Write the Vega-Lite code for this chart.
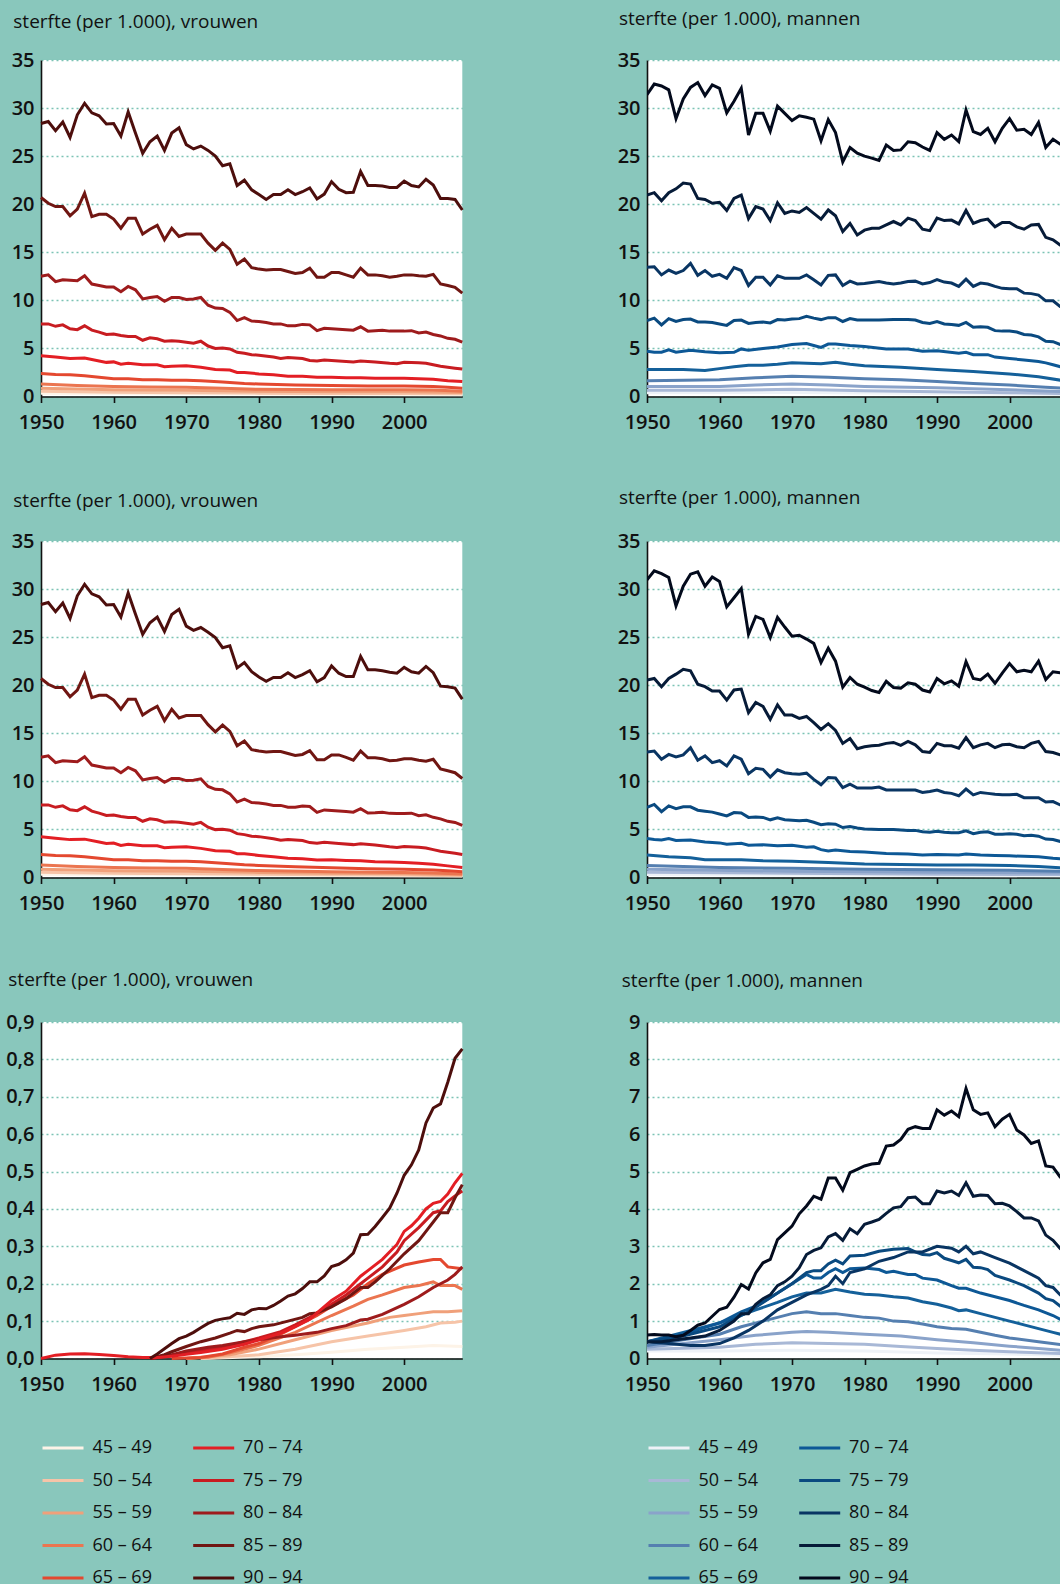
{
"$schema":"https://vega.github.io/schema/vega-lite/v6.json",
"background":"#89c7bc",
"padding":{"left":5,"top":9,"right":0,"bottom":0},
"bounds":"flush",
"columns":2,
"spacing":{"row":144,"column":184},
"resolve":{"scale":{"color":"independent"},"legend":{"color":"independent"}},
"datasets":{
"a9":[{"j":1950,"v":28.4},{"j":1951,"v":28.6},{"j":1952,"v":27.65},{"j":1953,"v":28.55},{"j":1954,"v":26.95},{"j":1955,"v":29.3},{"j":1956,"v":30.5},{"j":1957,"v":29.5},{"j":1958,"v":29.2},{"j":1959,"v":28.35},{"j":1960,"v":28.4},{"j":1961,"v":27.1},{"j":1962,"v":29.6},{"j":1963,"v":27.4},{"j":1964,"v":25.3},{"j":1965,"v":26.5},{"j":1966,"v":27.1},{"j":1967,"v":25.6},{"j":1968,"v":27.4},{"j":1969,"v":27.95},{"j":1970,"v":26.2},{"j":1971,"v":25.75},{"j":1972,"v":26.05},{"j":1973,"v":25.6},{"j":1974,"v":25.0},{"j":1975,"v":24.0},{"j":1976,"v":24.2},{"j":1977,"v":21.95},{"j":1978,"v":22.5},{"j":1979,"v":21.5},{"j":1980,"v":21.0},{"j":1981,"v":20.5},{"j":1982,"v":21.0},{"j":1983,"v":21.0},{"j":1984,"v":21.5},{"j":1985,"v":21.0},{"j":1986,"v":21.3},{"j":1987,"v":21.7},{"j":1988,"v":20.55},{"j":1989,"v":21.05},{"j":1990,"v":22.35},{"j":1991,"v":21.55},{"j":1992,"v":21.2},{"j":1993,"v":21.25},{"j":1994,"v":23.4},{"j":1995,"v":21.95},{"j":1996,"v":21.95},{"j":1997,"v":21.9},{"j":1998,"v":21.75},{"j":1999,"v":21.75},{"j":2000,"v":22.4},{"j":2001,"v":21.95},{"j":2002,"v":21.8},{"j":2003,"v":22.6},{"j":2004,"v":22.0},{"j":2005,"v":20.6},{"j":2006,"v":20.6},{"j":2007,"v":20.5},{"j":2008,"v":19.4}],
"a8":[{"j":1950,"v":20.7},{"j":1951,"v":20.1},{"j":1952,"v":19.75},{"j":1953,"v":19.75},{"j":1954,"v":18.8},{"j":1955,"v":19.5},{"j":1956,"v":21.15},{"j":1957,"v":18.7},{"j":1958,"v":18.95},{"j":1959,"v":18.95},{"j":1960,"v":18.45},{"j":1961,"v":17.5},{"j":1962,"v":18.55},{"j":1963,"v":18.55},{"j":1964,"v":16.9},{"j":1965,"v":17.4},{"j":1966,"v":17.8},{"j":1967,"v":16.3},{"j":1968,"v":17.5},{"j":1969,"v":16.65},{"j":1970,"v":16.9},{"j":1971,"v":16.9},{"j":1972,"v":16.9},{"j":1973,"v":15.95},{"j":1974,"v":15.2},{"j":1975,"v":15.95},{"j":1976,"v":15.3},{"j":1977,"v":13.75},{"j":1978,"v":14.3},{"j":1979,"v":13.4},{"j":1980,"v":13.25},{"j":1981,"v":13.15},{"j":1982,"v":13.2},{"j":1983,"v":13.2},{"j":1984,"v":13.0},{"j":1985,"v":12.8},{"j":1986,"v":12.9},{"j":1987,"v":13.35},{"j":1988,"v":12.4},{"j":1989,"v":12.4},{"j":1990,"v":12.9},{"j":1991,"v":12.9},{"j":1992,"v":12.65},{"j":1993,"v":12.4},{"j":1994,"v":13.35},{"j":1995,"v":12.65},{"j":1996,"v":12.65},{"j":1997,"v":12.55},{"j":1998,"v":12.4},{"j":1999,"v":12.5},{"j":2000,"v":12.65},{"j":2001,"v":12.65},{"j":2002,"v":12.55},{"j":2003,"v":12.5},{"j":2004,"v":12.7},{"j":2005,"v":11.7},{"j":2006,"v":11.55},{"j":2007,"v":11.35},{"j":2008,"v":10.75}],
"a7":[{"j":1950,"v":12.5},{"j":1951,"v":12.65},{"j":1952,"v":11.95},{"j":1953,"v":12.15},{"j":1954,"v":12.1},{"j":1955,"v":12.05},{"j":1956,"v":12.55},{"j":1957,"v":11.7},{"j":1958,"v":11.55},{"j":1959,"v":11.4},{"j":1960,"v":11.4},{"j":1961,"v":10.9},{"j":1962,"v":11.45},{"j":1963,"v":11.1},{"j":1964,"v":10.15},{"j":1965,"v":10.3},{"j":1966,"v":10.4},{"j":1967,"v":9.9},{"j":1968,"v":10.3},{"j":1969,"v":10.3},{"j":1970,"v":10.1},{"j":1971,"v":10.15},{"j":1972,"v":10.3},{"j":1973,"v":9.5},{"j":1974,"v":9.2},{"j":1975,"v":9.15},{"j":1976,"v":8.75},{"j":1977,"v":7.9},{"j":1978,"v":8.2},{"j":1979,"v":7.85},{"j":1980,"v":7.8},{"j":1981,"v":7.7},{"j":1982,"v":7.55},{"j":1983,"v":7.55},{"j":1984,"v":7.35},{"j":1985,"v":7.35},{"j":1986,"v":7.5},{"j":1987,"v":7.45},{"j":1988,"v":6.85},{"j":1989,"v":7.1},{"j":1990,"v":7.05},{"j":1991,"v":7.0},{"j":1992,"v":6.95},{"j":1993,"v":6.9},{"j":1994,"v":7.25},{"j":1995,"v":6.8},{"j":1996,"v":6.85},{"j":1997,"v":6.9},{"j":1998,"v":6.8},{"j":1999,"v":6.8},{"j":2000,"v":6.8},{"j":2001,"v":6.85},{"j":2002,"v":6.6},{"j":2003,"v":6.7},{"j":2004,"v":6.45},{"j":2005,"v":6.3},{"j":2006,"v":6.05},{"j":2007,"v":5.95},{"j":2008,"v":5.65}],
"a6":[{"j":1950,"v":7.55},{"j":1951,"v":7.55},{"j":1952,"v":7.3},{"j":1953,"v":7.45},{"j":1954,"v":7.05},{"j":1955,"v":6.95},{"j":1956,"v":7.35},{"j":1957,"v":6.9},{"j":1958,"v":6.7},{"j":1959,"v":6.45},{"j":1960,"v":6.5},{"j":1961,"v":6.35},{"j":1962,"v":6.25},{"j":1963,"v":6.25},{"j":1964,"v":5.85},{"j":1965,"v":6.1},{"j":1966,"v":6.0},{"j":1967,"v":5.75},{"j":1968,"v":5.8},{"j":1969,"v":5.75},{"j":1970,"v":5.65},{"j":1971,"v":5.55},{"j":1972,"v":5.75},{"j":1973,"v":5.25},{"j":1974,"v":5.0},{"j":1975,"v":5.05},{"j":1976,"v":4.95},{"j":1977,"v":4.6},{"j":1978,"v":4.5},{"j":1979,"v":4.35},{"j":1980,"v":4.3},{"j":1982,"v":4.1},{"j":1983,"v":3.95},{"j":1984,"v":4.05},{"j":1986,"v":3.95},{"j":1987,"v":3.75},{"j":1988,"v":3.7},{"j":1989,"v":3.8},{"j":1991,"v":3.7},{"j":1993,"v":3.6},{"j":1994,"v":3.7},{"j":1996,"v":3.6},{"j":1998,"v":3.45},{"j":1999,"v":3.4},{"j":2000,"v":3.55},{"j":2002,"v":3.5},{"j":2003,"v":3.45},{"j":2004,"v":3.3},{"j":2005,"v":3.15},{"j":2006,"v":3.05},{"j":2007,"v":2.95},{"j":2008,"v":2.85}],
"a5":[{"j":1950,"v":4.25},{"j":1952,"v":4.1},{"j":1954,"v":3.95},{"j":1956,"v":4.0},{"j":1958,"v":3.7},{"j":1959,"v":3.55},{"j":1960,"v":3.6},{"j":1961,"v":3.35},{"j":1962,"v":3.45},{"j":1964,"v":3.3},{"j":1966,"v":3.3},{"j":1967,"v":3.1},{"j":1968,"v":3.15},{"j":1970,"v":3.2},{"j":1972,"v":3.05},{"j":1974,"v":2.8},{"j":1976,"v":2.75},{"j":1977,"v":2.5},{"j":1978,"v":2.5},{"j":1980,"v":2.35},{"j":1982,"v":2.25},{"j":1984,"v":2.1},{"j":1986,"v":2.1},{"j":1988,"v":2.0},{"j":1990,"v":2.0},{"j":1992,"v":1.95},{"j":1994,"v":1.95},{"j":1996,"v":1.9},{"j":1998,"v":1.9},{"j":2000,"v":1.9},{"j":2002,"v":1.85},{"j":2004,"v":1.8},{"j":2006,"v":1.65},{"j":2008,"v":1.55}],
"a4":[{"j":1950,"v":2.4},{"j":1952,"v":2.3},{"j":1954,"v":2.25},{"j":1956,"v":2.15},{"j":1958,"v":2.0},{"j":1960,"v":1.85},{"j":1962,"v":1.85},{"j":1964,"v":1.75},{"j":1966,"v":1.75},{"j":1968,"v":1.7},{"j":1970,"v":1.7},{"j":1972,"v":1.65},{"j":1975,"v":1.5},{"j":1978,"v":1.35},{"j":1980,"v":1.3},{"j":1985,"v":1.2},{"j":1990,"v":1.15},{"j":1995,"v":1.1},{"j":2000,"v":1.1},{"j":2004,"v":1.05},{"j":2006,"v":0.95},{"j":2008,"v":0.85}],
"a3":[{"j":1950,"v":1.3},{"j":1955,"v":1.15},{"j":1960,"v":1.05},{"j":1965,"v":1.0},{"j":1970,"v":0.95},{"j":1975,"v":0.85},{"j":1980,"v":0.75},{"j":1990,"v":0.7},{"j":2000,"v":0.7},{"j":2004,"v":0.68},{"j":2008,"v":0.55}],
"a2":[{"j":1950,"v":0.85},{"j":1960,"v":0.7},{"j":1970,"v":0.65},{"j":1980,"v":0.55},{"j":1990,"v":0.5},{"j":2000,"v":0.5},{"j":2008,"v":0.42}],
"a1":[{"j":1950,"v":0.55},{"j":1960,"v":0.45},{"j":1970,"v":0.4},{"j":1980,"v":0.35},{"j":1990,"v":0.32},{"j":2000,"v":0.32},{"j":2008,"v":0.28}],
"a0":[{"j":1950,"v":0.35},{"j":1970,"v":0.28},{"j":1990,"v":0.22},{"j":2008,"v":0.18}],
"c9":[{"j":1950,"v":28.4},{"j":1951,"v":28.6},{"j":1952,"v":27.65},{"j":1953,"v":28.55},{"j":1954,"v":26.95},{"j":1955,"v":29.3},{"j":1956,"v":30.5},{"j":1957,"v":29.5},{"j":1958,"v":29.2},{"j":1959,"v":28.35},{"j":1960,"v":28.4},{"j":1961,"v":27.1},{"j":1962,"v":29.6},{"j":1963,"v":27.4},{"j":1964,"v":25.3},{"j":1965,"v":26.5},{"j":1966,"v":27.1},{"j":1967,"v":25.6},{"j":1968,"v":27.35},{"j":1969,"v":27.9},{"j":1970,"v":26.15},{"j":1971,"v":25.7},{"j":1972,"v":26.0},{"j":1973,"v":25.5},{"j":1974,"v":24.95},{"j":1975,"v":23.9},{"j":1976,"v":24.1},{"j":1977,"v":21.8},{"j":1978,"v":22.35},{"j":1979,"v":21.4},{"j":1980,"v":20.85},{"j":1981,"v":20.4},{"j":1982,"v":20.8},{"j":1983,"v":20.8},{"j":1984,"v":21.3},{"j":1985,"v":20.8},{"j":1986,"v":21.1},{"j":1987,"v":21.5},{"j":1988,"v":20.35},{"j":1989,"v":20.8},{"j":1990,"v":22.0},{"j":1991,"v":21.25},{"j":1992,"v":20.9},{"j":1993,"v":20.9},{"j":1994,"v":23.0},{"j":1995,"v":21.6},{"j":1996,"v":21.6},{"j":1997,"v":21.5},{"j":1998,"v":21.35},{"j":1999,"v":21.25},{"j":2000,"v":21.85},{"j":2001,"v":21.4},{"j":2002,"v":21.25},{"j":2003,"v":21.95},{"j":2004,"v":21.3},{"j":2005,"v":19.9},{"j":2006,"v":19.85},{"j":2007,"v":19.7},{"j":2008,"v":18.55}],
"c8":[{"j":1950,"v":20.7},{"j":1951,"v":20.1},{"j":1952,"v":19.75},{"j":1953,"v":19.75},{"j":1954,"v":18.8},{"j":1955,"v":19.5},{"j":1956,"v":21.15},{"j":1957,"v":18.7},{"j":1958,"v":18.95},{"j":1959,"v":18.95},{"j":1960,"v":18.45},{"j":1961,"v":17.5},{"j":1962,"v":18.55},{"j":1963,"v":18.55},{"j":1964,"v":16.9},{"j":1965,"v":17.4},{"j":1966,"v":17.8},{"j":1967,"v":16.3},{"j":1968,"v":17.5},{"j":1969,"v":16.6},{"j":1970,"v":16.85},{"j":1971,"v":16.85},{"j":1972,"v":16.85},{"j":1973,"v":15.9},{"j":1974,"v":15.15},{"j":1975,"v":15.85},{"j":1976,"v":15.2},{"j":1977,"v":13.7},{"j":1978,"v":14.2},{"j":1979,"v":13.3},{"j":1980,"v":13.15},{"j":1981,"v":13.05},{"j":1982,"v":13.1},{"j":1983,"v":13.1},{"j":1984,"v":12.9},{"j":1985,"v":12.7},{"j":1986,"v":12.8},{"j":1987,"v":13.2},{"j":1988,"v":12.25},{"j":1989,"v":12.25},{"j":1990,"v":12.75},{"j":1991,"v":12.75},{"j":1992,"v":12.5},{"j":1993,"v":12.2},{"j":1994,"v":13.15},{"j":1995,"v":12.45},{"j":1996,"v":12.45},{"j":1997,"v":12.35},{"j":1998,"v":12.15},{"j":1999,"v":12.2},{"j":2000,"v":12.35},{"j":2001,"v":12.35},{"j":2002,"v":12.2},{"j":2003,"v":12.1},{"j":2004,"v":12.3},{"j":2005,"v":11.3},{"j":2006,"v":11.1},{"j":2007,"v":10.9},{"j":2008,"v":10.3}],
"c7":[{"j":1950,"v":12.5},{"j":1951,"v":12.65},{"j":1952,"v":11.95},{"j":1953,"v":12.15},{"j":1954,"v":12.1},{"j":1955,"v":12.05},{"j":1956,"v":12.55},{"j":1957,"v":11.7},{"j":1958,"v":11.55},{"j":1959,"v":11.4},{"j":1960,"v":11.4},{"j":1961,"v":10.9},{"j":1962,"v":11.45},{"j":1963,"v":11.1},{"j":1964,"v":10.15},{"j":1965,"v":10.3},{"j":1966,"v":10.4},{"j":1967,"v":9.9},{"j":1968,"v":10.3},{"j":1969,"v":10.3},{"j":1970,"v":10.08},{"j":1971,"v":10.12},{"j":1972,"v":10.27},{"j":1973,"v":9.47},{"j":1974,"v":9.17},{"j":1975,"v":9.12},{"j":1976,"v":8.7},{"j":1977,"v":7.85},{"j":1978,"v":8.15},{"j":1979,"v":7.8},{"j":1980,"v":7.75},{"j":1981,"v":7.65},{"j":1982,"v":7.5},{"j":1983,"v":7.5},{"j":1984,"v":7.3},{"j":1985,"v":7.3},{"j":1986,"v":7.43},{"j":1987,"v":7.38},{"j":1988,"v":6.78},{"j":1989,"v":7.03},{"j":1990,"v":6.97},{"j":1991,"v":6.92},{"j":1992,"v":6.86},{"j":1993,"v":6.8},{"j":1994,"v":7.15},{"j":1995,"v":6.7},{"j":1996,"v":6.73},{"j":1997,"v":6.78},{"j":1998,"v":6.67},{"j":1999,"v":6.66},{"j":2000,"v":6.65},{"j":2001,"v":6.69},{"j":2002,"v":6.43},{"j":2003,"v":6.52},{"j":2004,"v":6.26},{"j":2005,"v":6.1},{"j":2006,"v":5.84},{"j":2007,"v":5.73},{"j":2008,"v":5.41}],
"c6":[{"j":1950,"v":7.55},{"j":1951,"v":7.55},{"j":1952,"v":7.3},{"j":1953,"v":7.45},{"j":1954,"v":7.05},{"j":1955,"v":6.95},{"j":1956,"v":7.35},{"j":1957,"v":6.9},{"j":1958,"v":6.7},{"j":1959,"v":6.45},{"j":1960,"v":6.5},{"j":1961,"v":6.35},{"j":1962,"v":6.25},{"j":1963,"v":6.25},{"j":1964,"v":5.85},{"j":1965,"v":6.1},{"j":1966,"v":6.0},{"j":1967,"v":5.75},{"j":1968,"v":5.8},{"j":1969,"v":5.75},{"j":1970,"v":5.64},{"j":1971,"v":5.54},{"j":1972,"v":5.73},{"j":1973,"v":5.23},{"j":1974,"v":4.98},{"j":1975,"v":5.02},{"j":1976,"v":4.92},{"j":1977,"v":4.56},{"j":1978,"v":4.46},{"j":1979,"v":4.3},{"j":1980,"v":4.25},{"j":1982,"v":4.03},{"j":1983,"v":3.87},{"j":1984,"v":3.96},{"j":1986,"v":3.84},{"j":1987,"v":3.63},{"j":1988,"v":3.57},{"j":1989,"v":3.66},{"j":1991,"v":3.54},{"j":1993,"v":3.42},{"j":1994,"v":3.5},{"j":1996,"v":3.37},{"j":1998,"v":3.19},{"j":1999,"v":3.12},{"j":2000,"v":3.23},{"j":2002,"v":3.14},{"j":2003,"v":3.07},{"j":2004,"v":2.9},{"j":2005,"v":2.73},{"j":2006,"v":2.63},{"j":2007,"v":2.52},{"j":2008,"v":2.4}],
"c5":[{"j":1950,"v":4.25},{"j":1952,"v":4.09},{"j":1954,"v":3.94},{"j":1956,"v":3.99},{"j":1958,"v":3.69},{"j":1959,"v":3.54},{"j":1960,"v":3.59},{"j":1961,"v":3.34},{"j":1962,"v":3.45},{"j":1964,"v":3.3},{"j":1966,"v":3.3},{"j":1967,"v":3.1},{"j":1968,"v":3.14},{"j":1970,"v":3.19},{"j":1972,"v":3.03},{"j":1974,"v":2.78},{"j":1976,"v":2.72},{"j":1977,"v":2.47},{"j":1978,"v":2.46},{"j":1980,"v":2.3},{"j":1982,"v":2.17},{"j":1984,"v":2.0},{"j":1986,"v":1.96},{"j":1988,"v":1.83},{"j":1990,"v":1.84},{"j":1992,"v":1.77},{"j":1994,"v":1.73},{"j":1996,"v":1.65},{"j":1998,"v":1.61},{"j":2000,"v":1.55},{"j":2002,"v":1.47},{"j":2004,"v":1.38},{"j":2006,"v":1.21},{"j":2008,"v":1.05}],
"c4":[{"j":1950,"v":2.4},{"j":1952,"v":2.3},{"j":1954,"v":2.25},{"j":1956,"v":2.15},{"j":1958,"v":2.0},{"j":1960,"v":1.85},{"j":1962,"v":1.85},{"j":1964,"v":1.75},{"j":1966,"v":1.75},{"j":1968,"v":1.7},{"j":1970,"v":1.7},{"j":1972,"v":1.65},{"j":1975,"v":1.49},{"j":1978,"v":1.32},{"j":1980,"v":1.26},{"j":1985,"v":1.12},{"j":1990,"v":1.01},{"j":1995,"v":0.9},{"j":2000,"v":0.85},{"j":2004,"v":0.79},{"j":2006,"v":0.7},{"j":2008,"v":0.61}],
"c3":[{"j":1950,"v":1.3},{"j":1955,"v":1.15},{"j":1960,"v":1.05},{"j":1965,"v":1.0},{"j":1970,"v":0.95},{"j":1975,"v":0.84},{"j":1980,"v":0.72},{"j":1990,"v":0.59},{"j":2000,"v":0.51},{"j":2004,"v":0.48},{"j":2008,"v":0.37}],
"c2":[{"j":1950,"v":0.85},{"j":1960,"v":0.7},{"j":1970,"v":0.65},{"j":1980,"v":0.53},{"j":1990,"v":0.43},{"j":2000,"v":0.39},{"j":2008,"v":0.29}],
"c1":[{"j":1950,"v":0.55},{"j":1960,"v":0.45},{"j":1970,"v":0.4},{"j":1980,"v":0.34},{"j":1990,"v":0.28},{"j":2000,"v":0.25},{"j":2008,"v":0.18}],
"c0":[{"j":1950,"v":0.35},{"j":1970,"v":0.28},{"j":1990,"v":0.2},{"j":2008,"v":0.15}],
"b9":[{"j":1950,"v":31.4},{"j":1951,"v":32.5},{"j":1952,"v":32.3},{"j":1953,"v":31.9},{"j":1954,"v":28.9},{"j":1955,"v":30.95},{"j":1956,"v":32.15},{"j":1957,"v":32.65},{"j":1958,"v":31.3},{"j":1959,"v":32.4},{"j":1960,"v":32.05},{"j":1961,"v":29.5},{"j":1962,"v":30.7},{"j":1963,"v":32.05},{"j":1964,"v":27.2},{"j":1965,"v":29.45},{"j":1966,"v":29.45},{"j":1967,"v":27.6},{"j":1968,"v":30.2},{"j":1969,"v":29.45},{"j":1970,"v":28.7},{"j":1971,"v":29.2},{"j":1972,"v":29.05},{"j":1973,"v":28.85},{"j":1974,"v":26.6},{"j":1975,"v":28.8},{"j":1976,"v":27.45},{"j":1977,"v":24.4},{"j":1978,"v":25.9},{"j":1979,"v":25.3},{"j":1980,"v":25.0},{"j":1981,"v":24.8},{"j":1982,"v":24.55},{"j":1983,"v":26.15},{"j":1984,"v":25.6},{"j":1985,"v":25.65},{"j":1986,"v":26.5},{"j":1987,"v":26.4},{"j":1988,"v":25.95},{"j":1989,"v":25.6},{"j":1990,"v":27.45},{"j":1991,"v":26.75},{"j":1992,"v":27.2},{"j":1993,"v":26.5},{"j":1994,"v":29.8},{"j":1995,"v":27.55},{"j":1996,"v":27.25},{"j":1997,"v":27.9},{"j":1998,"v":26.5},{"j":1999,"v":27.9},{"j":2000,"v":28.9},{"j":2001,"v":27.7},{"j":2002,"v":27.8},{"j":2003,"v":27.25},{"j":2004,"v":28.5},{"j":2005,"v":25.9},{"j":2006,"v":26.75},{"j":2007,"v":26.25},{"j":2008,"v":26.0}],
"b8":[{"j":1950,"v":20.95},{"j":1951,"v":21.2},{"j":1952,"v":20.35},{"j":1953,"v":21.2},{"j":1954,"v":21.6},{"j":1955,"v":22.2},{"j":1956,"v":22.1},{"j":1957,"v":20.6},{"j":1958,"v":20.5},{"j":1959,"v":20.1},{"j":1960,"v":20.2},{"j":1961,"v":19.35},{"j":1962,"v":20.6},{"j":1963,"v":20.95},{"j":1964,"v":18.5},{"j":1965,"v":19.75},{"j":1966,"v":19.5},{"j":1967,"v":18.3},{"j":1968,"v":20.15},{"j":1969,"v":19.05},{"j":1970,"v":19.3},{"j":1971,"v":19.15},{"j":1972,"v":19.65},{"j":1973,"v":19.05},{"j":1974,"v":18.45},{"j":1975,"v":19.4},{"j":1976,"v":18.8},{"j":1977,"v":17.15},{"j":1978,"v":18.0},{"j":1979,"v":16.8},{"j":1980,"v":17.3},{"j":1981,"v":17.5},{"j":1982,"v":17.5},{"j":1983,"v":17.85},{"j":1984,"v":18.2},{"j":1985,"v":17.85},{"j":1986,"v":18.55},{"j":1987,"v":18.3},{"j":1988,"v":17.4},{"j":1989,"v":17.25},{"j":1990,"v":18.55},{"j":1991,"v":18.3},{"j":1992,"v":18.35},{"j":1993,"v":17.95},{"j":1994,"v":19.35},{"j":1995,"v":18.0},{"j":1996,"v":18.3},{"j":1997,"v":18.45},{"j":1998,"v":17.65},{"j":1999,"v":18.1},{"j":2000,"v":18.1},{"j":2001,"v":17.65},{"j":2002,"v":17.4},{"j":2003,"v":17.85},{"j":2004,"v":17.9},{"j":2005,"v":16.55},{"j":2006,"v":16.3},{"j":2007,"v":15.75},{"j":2008,"v":15.5}],
"b7":[{"j":1950,"v":13.45},{"j":1951,"v":13.5},{"j":1952,"v":12.65},{"j":1953,"v":13.15},{"j":1954,"v":12.8},{"j":1955,"v":13.1},{"j":1956,"v":13.85},{"j":1957,"v":12.6},{"j":1958,"v":13.1},{"j":1959,"v":12.5},{"j":1960,"v":12.7},{"j":1961,"v":12.3},{"j":1962,"v":13.4},{"j":1963,"v":13.1},{"j":1964,"v":11.55},{"j":1965,"v":12.4},{"j":1966,"v":12.4},{"j":1967,"v":11.6},{"j":1968,"v":12.55},{"j":1969,"v":12.3},{"j":1970,"v":12.3},{"j":1971,"v":12.3},{"j":1972,"v":12.65},{"j":1973,"v":12.15},{"j":1974,"v":11.6},{"j":1975,"v":12.6},{"j":1976,"v":12.65},{"j":1977,"v":11.55},{"j":1978,"v":12.0},{"j":1979,"v":11.7},{"j":1980,"v":11.75},{"j":1981,"v":11.85},{"j":1982,"v":11.95},{"j":1983,"v":11.8},{"j":1984,"v":11.7},{"j":1985,"v":11.8},{"j":1986,"v":11.95},{"j":1987,"v":12.0},{"j":1988,"v":11.7},{"j":1989,"v":11.85},{"j":1990,"v":12.15},{"j":1991,"v":11.9},{"j":1992,"v":11.8},{"j":1993,"v":11.45},{"j":1994,"v":12.2},{"j":1995,"v":11.45},{"j":1996,"v":11.8},{"j":1997,"v":11.7},{"j":1998,"v":11.45},{"j":1999,"v":11.25},{"j":2000,"v":11.2},{"j":2001,"v":11.2},{"j":2002,"v":10.75},{"j":2003,"v":10.7},{"j":2004,"v":10.55},{"j":2005,"v":9.95},{"j":2006,"v":9.95},{"j":2007,"v":9.35},{"j":2008,"v":9.1}],
"b6":[{"j":1950,"v":7.9},{"j":1951,"v":8.15},{"j":1952,"v":7.45},{"j":1953,"v":8.1},{"j":1954,"v":7.8},{"j":1955,"v":8.0},{"j":1956,"v":8.05},{"j":1957,"v":7.75},{"j":1958,"v":7.75},{"j":1959,"v":7.7},{"j":1960,"v":7.55},{"j":1961,"v":7.4},{"j":1962,"v":7.9},{"j":1963,"v":7.95},{"j":1964,"v":7.6},{"j":1965,"v":7.7},{"j":1966,"v":7.75},{"j":1967,"v":7.65},{"j":1968,"v":8.0},{"j":1969,"v":7.95},{"j":1970,"v":8.05},{"j":1971,"v":8.1},{"j":1972,"v":8.35},{"j":1973,"v":8.15},{"j":1974,"v":8.0},{"j":1975,"v":8.2},{"j":1976,"v":8.2},{"j":1977,"v":7.8},{"j":1978,"v":8.1},{"j":1979,"v":7.95},{"j":1980,"v":7.95},{"j":1982,"v":7.95},{"j":1984,"v":8.0},{"j":1986,"v":8.0},{"j":1987,"v":7.95},{"j":1988,"v":7.7},{"j":1989,"v":7.6},{"j":1990,"v":7.8},{"j":1991,"v":7.55},{"j":1992,"v":7.5},{"j":1993,"v":7.4},{"j":1994,"v":7.7},{"j":1995,"v":7.2},{"j":1996,"v":7.25},{"j":1997,"v":7.2},{"j":1998,"v":6.85},{"j":1999,"v":6.8},{"j":2000,"v":6.8},{"j":2001,"v":6.7},{"j":2002,"v":6.45},{"j":2003,"v":6.4},{"j":2004,"v":6.2},{"j":2005,"v":5.75},{"j":2006,"v":5.7},{"j":2007,"v":5.4},{"j":2008,"v":5.2}],
"b5":[{"j":1950,"v":4.7},{"j":1951,"v":4.6},{"j":1952,"v":4.6},{"j":1953,"v":4.85},{"j":1954,"v":4.6},{"j":1956,"v":4.8},{"j":1958,"v":4.65},{"j":1960,"v":4.55},{"j":1962,"v":4.6},{"j":1963,"v":4.95},{"j":1964,"v":4.8},{"j":1966,"v":5.0},{"j":1968,"v":5.15},{"j":1970,"v":5.4},{"j":1972,"v":5.5},{"j":1973,"v":5.3},{"j":1974,"v":5.1},{"j":1975,"v":5.45},{"j":1976,"v":5.45},{"j":1978,"v":5.3},{"j":1980,"v":5.2},{"j":1983,"v":4.95},{"j":1986,"v":4.95},{"j":1988,"v":4.7},{"j":1990,"v":4.75},{"j":1993,"v":4.5},{"j":1994,"v":4.6},{"j":1995,"v":4.35},{"j":1997,"v":4.35},{"j":1998,"v":4.1},{"j":2000,"v":3.95},{"j":2002,"v":3.8},{"j":2004,"v":3.65},{"j":2005,"v":3.5},{"j":2006,"v":3.3},{"j":2007,"v":3.1},{"j":2008,"v":2.95}],
"b4":[{"j":1950,"v":2.8},{"j":1955,"v":2.8},{"j":1958,"v":2.7},{"j":1960,"v":2.9},{"j":1962,"v":3.1},{"j":1964,"v":3.25},{"j":1966,"v":3.25},{"j":1968,"v":3.35},{"j":1970,"v":3.5},{"j":1972,"v":3.45},{"j":1974,"v":3.4},{"j":1976,"v":3.55},{"j":1978,"v":3.35},{"j":1980,"v":3.2},{"j":1985,"v":3.05},{"j":1990,"v":2.8},{"j":1995,"v":2.6},{"j":2000,"v":2.35},{"j":2004,"v":2.05},{"j":2007,"v":1.7},{"j":2008,"v":1.6}],
"b3":[{"j":1950,"v":1.65},{"j":1955,"v":1.7},{"j":1960,"v":1.75},{"j":1965,"v":1.95},{"j":1970,"v":2.1},{"j":1975,"v":2.0},{"j":1980,"v":1.85},{"j":1985,"v":1.75},{"j":1990,"v":1.55},{"j":1995,"v":1.35},{"j":2000,"v":1.2},{"j":2005,"v":0.95},{"j":2008,"v":0.85}],
"b2":[{"j":1950,"v":1.05},{"j":1960,"v":1.05},{"j":1965,"v":1.2},{"j":1970,"v":1.3},{"j":1975,"v":1.2},{"j":1980,"v":1.05},{"j":1990,"v":0.9},{"j":2000,"v":0.7},{"j":2008,"v":0.5}],
"b1":[{"j":1950,"v":0.65},{"j":1960,"v":0.65},{"j":1970,"v":0.75},{"j":1980,"v":0.6},{"j":1990,"v":0.5},{"j":2000,"v":0.4},{"j":2008,"v":0.3}],
"b0":[{"j":1950,"v":0.4},{"j":1970,"v":0.42},{"j":1990,"v":0.3},{"j":2008,"v":0.2}],
"d9":[{"j":1950,"v":30.95},{"j":1951,"v":31.9},{"j":1952,"v":31.6},{"j":1953,"v":31.2},{"j":1954,"v":28.25},{"j":1955,"v":30.3},{"j":1956,"v":31.55},{"j":1957,"v":31.8},{"j":1958,"v":30.3},{"j":1959,"v":31.25},{"j":1960,"v":30.8},{"j":1961,"v":28.15},{"j":1962,"v":29.1},{"j":1963,"v":30.05},{"j":1964,"v":25.3},{"j":1965,"v":27.15},{"j":1966,"v":26.85},{"j":1967,"v":24.95},{"j":1968,"v":27.05},{"j":1969,"v":26.05},{"j":1970,"v":25.1},{"j":1971,"v":25.2},{"j":1972,"v":24.8},{"j":1973,"v":24.35},{"j":1974,"v":22.35},{"j":1975,"v":23.85},{"j":1976,"v":22.5},{"j":1977,"v":19.8},{"j":1978,"v":20.8},{"j":1979,"v":20.1},{"j":1980,"v":19.8},{"j":1981,"v":19.45},{"j":1982,"v":19.25},{"j":1983,"v":20.4},{"j":1984,"v":19.75},{"j":1985,"v":19.7},{"j":1986,"v":20.25},{"j":1987,"v":20.1},{"j":1988,"v":19.5},{"j":1989,"v":19.3},{"j":1990,"v":20.7},{"j":1991,"v":20.15},{"j":1992,"v":20.45},{"j":1993,"v":19.9},{"j":1994,"v":22.45},{"j":1995,"v":20.7},{"j":1996,"v":20.55},{"j":1997,"v":21.15},{"j":1998,"v":20.2},{"j":1999,"v":21.25},{"j":2000,"v":22.25},{"j":2001,"v":21.4},{"j":2002,"v":21.55},{"j":2003,"v":21.4},{"j":2004,"v":22.5},{"j":2005,"v":20.6},{"j":2006,"v":21.4},{"j":2007,"v":21.3},{"j":2008,"v":21.2}],
"d8":[{"j":1950,"v":20.55},{"j":1951,"v":20.7},{"j":1952,"v":19.85},{"j":1953,"v":20.7},{"j":1954,"v":21.15},{"j":1955,"v":21.65},{"j":1956,"v":21.5},{"j":1957,"v":20.1},{"j":1958,"v":19.85},{"j":1959,"v":19.4},{"j":1960,"v":19.4},{"j":1961,"v":18.45},{"j":1962,"v":19.5},{"j":1963,"v":19.6},{"j":1964,"v":17.15},{"j":1965,"v":18.2},{"j":1966,"v":17.8},{"j":1967,"v":16.45},{"j":1968,"v":17.95},{"j":1969,"v":16.9},{"j":1970,"v":16.9},{"j":1971,"v":16.55},{"j":1972,"v":16.75},{"j":1973,"v":16.1},{"j":1974,"v":15.4},{"j":1975,"v":16.0},{"j":1976,"v":15.3},{"j":1977,"v":13.95},{"j":1978,"v":14.45},{"j":1979,"v":13.4},{"j":1980,"v":13.6},{"j":1981,"v":13.7},{"j":1982,"v":13.75},{"j":1983,"v":13.95},{"j":1984,"v":14.05},{"j":1985,"v":13.75},{"j":1986,"v":14.15},{"j":1987,"v":13.8},{"j":1988,"v":13.1},{"j":1989,"v":13.0},{"j":1990,"v":13.95},{"j":1991,"v":13.7},{"j":1992,"v":13.7},{"j":1993,"v":13.45},{"j":1994,"v":14.55},{"j":1995,"v":13.5},{"j":1996,"v":13.8},{"j":1997,"v":13.95},{"j":1998,"v":13.5},{"j":1999,"v":13.8},{"j":2000,"v":13.85},{"j":2001,"v":13.6},{"j":2002,"v":13.5},{"j":2003,"v":13.95},{"j":2004,"v":14.15},{"j":2005,"v":13.1},{"j":2006,"v":13.0},{"j":2007,"v":12.75},{"j":2008,"v":12.6}],
"d7":[{"j":1950,"v":13.05},{"j":1951,"v":13.15},{"j":1952,"v":12.3},{"j":1953,"v":12.8},{"j":1954,"v":12.55},{"j":1955,"v":12.75},{"j":1956,"v":13.5},{"j":1957,"v":12.2},{"j":1958,"v":12.65},{"j":1959,"v":11.95},{"j":1960,"v":12.15},{"j":1961,"v":11.6},{"j":1962,"v":12.65},{"j":1963,"v":12.3},{"j":1964,"v":10.8},{"j":1965,"v":11.35},{"j":1966,"v":11.25},{"j":1967,"v":10.45},{"j":1968,"v":11.2},{"j":1969,"v":10.9},{"j":1970,"v":10.8},{"j":1971,"v":10.75},{"j":1972,"v":10.85},{"j":1973,"v":10.2},{"j":1974,"v":9.65},{"j":1975,"v":10.4},{"j":1976,"v":10.35},{"j":1977,"v":9.35},{"j":1978,"v":9.7},{"j":1979,"v":9.3},{"j":1980,"v":9.3},{"j":1981,"v":9.3},{"j":1982,"v":9.4},{"j":1983,"v":9.1},{"j":1984,"v":9.1},{"j":1985,"v":9.1},{"j":1986,"v":9.1},{"j":1987,"v":9.1},{"j":1988,"v":8.85},{"j":1989,"v":8.95},{"j":1990,"v":9.1},{"j":1991,"v":8.85},{"j":1992,"v":8.75},{"j":1993,"v":8.5},{"j":1994,"v":9.2},{"j":1995,"v":8.6},{"j":1996,"v":8.85},{"j":1997,"v":8.75},{"j":1998,"v":8.65},{"j":1999,"v":8.6},{"j":2000,"v":8.6},{"j":2001,"v":8.65},{"j":2002,"v":8.3},{"j":2003,"v":8.3},{"j":2004,"v":8.3},{"j":2005,"v":7.85},{"j":2006,"v":7.9},{"j":2007,"v":7.55},{"j":2008,"v":7.3}],
"d6":[{"j":1950,"v":7.3},{"j":1951,"v":7.6},{"j":1952,"v":6.85},{"j":1953,"v":7.45},{"j":1954,"v":7.15},{"j":1955,"v":7.35},{"j":1956,"v":7.35},{"j":1957,"v":7.0},{"j":1958,"v":6.9},{"j":1959,"v":6.8},{"j":1960,"v":6.6},{"j":1961,"v":6.4},{"j":1962,"v":6.75},{"j":1963,"v":6.7},{"j":1964,"v":6.25},{"j":1965,"v":6.3},{"j":1966,"v":6.25},{"j":1967,"v":6.0},{"j":1968,"v":6.2},{"j":1969,"v":6.0},{"j":1970,"v":5.95},{"j":1971,"v":5.9},{"j":1972,"v":5.95},{"j":1973,"v":5.75},{"j":1974,"v":5.5},{"j":1975,"v":5.6},{"j":1976,"v":5.55},{"j":1977,"v":5.2},{"j":1978,"v":5.3},{"j":1979,"v":5.15},{"j":1980,"v":5.05},{"j":1982,"v":5.0},{"j":1984,"v":5.0},{"j":1986,"v":4.9},{"j":1987,"v":4.9},{"j":1988,"v":4.75},{"j":1989,"v":4.7},{"j":1990,"v":4.8},{"j":1991,"v":4.7},{"j":1992,"v":4.65},{"j":1993,"v":4.65},{"j":1994,"v":4.85},{"j":1995,"v":4.55},{"j":1996,"v":4.7},{"j":1997,"v":4.75},{"j":1998,"v":4.5},{"j":1999,"v":4.5},{"j":2000,"v":4.55},{"j":2001,"v":4.5},{"j":2002,"v":4.35},{"j":2003,"v":4.4},{"j":2004,"v":4.3},{"j":2005,"v":4.0},{"j":2006,"v":3.95},{"j":2007,"v":3.75},{"j":2008,"v":3.6}],
"d5":[{"j":1950,"v":4.05},{"j":1951,"v":3.95},{"j":1952,"v":3.9},{"j":1953,"v":4.05},{"j":1954,"v":3.85},{"j":1956,"v":3.9},{"j":1958,"v":3.7},{"j":1960,"v":3.6},{"j":1961,"v":3.45},{"j":1963,"v":3.55},{"j":1964,"v":3.35},{"j":1966,"v":3.4},{"j":1968,"v":3.3},{"j":1970,"v":3.35},{"j":1972,"v":3.15},{"j":1973,"v":3.2},{"j":1974,"v":2.9},{"j":1975,"v":2.75},{"j":1976,"v":2.85},{"j":1978,"v":2.7},{"j":1980,"v":2.65},{"j":1983,"v":2.5},{"j":1986,"v":2.45},{"j":1988,"v":2.35},{"j":1990,"v":2.4},{"j":1993,"v":2.35},{"j":1994,"v":2.45},{"j":1996,"v":2.35},{"j":1998,"v":2.3},{"j":2000,"v":2.25},{"j":2002,"v":2.2},{"j":2004,"v":2.15},{"j":2006,"v":2.0},{"j":2007,"v":1.95},{"j":2008,"v":1.85}],
"d4":[{"j":1950,"v":2.35},{"j":1953,"v":2.15},{"j":1956,"v":2.05},{"j":1958,"v":1.85},{"j":1960,"v":1.85},{"j":1963,"v":1.85},{"j":1966,"v":1.75},{"j":1970,"v":1.7},{"j":1975,"v":1.55},{"j":1980,"v":1.4},{"j":1985,"v":1.35},{"j":1990,"v":1.3},{"j":1995,"v":1.3},{"j":2000,"v":1.25},{"j":2004,"v":1.15},{"j":2008,"v":0.95}],
"d3":[{"j":1950,"v":1.25},{"j":1960,"v":1.05},{"j":1970,"v":0.95},{"j":1980,"v":0.85},{"j":1990,"v":0.8},{"j":2000,"v":0.75},{"j":2008,"v":0.65}],
"d2":[{"j":1950,"v":0.85},{"j":1970,"v":0.65},{"j":1990,"v":0.55},{"j":2008,"v":0.45}],
"d1":[{"j":1950,"v":0.55},{"j":1970,"v":0.45},{"j":1990,"v":0.35},{"j":2008,"v":0.3}],
"d0":[{"j":1950,"v":0.3},{"j":1970,"v":0.25},{"j":1990,"v":0.2},{"j":2008,"v":0.15}],
"e9":[{"j":1965,"v":0},{"j":1966,"v":0.012},{"j":1967,"v":0.026},{"j":1968,"v":0.04},{"j":1969,"v":0.053},{"j":1970,"v":0.06},{"j":1971,"v":0.07},{"j":1972,"v":0.082},{"j":1973,"v":0.094},{"j":1974,"v":0.102},{"j":1975,"v":0.106},{"j":1976,"v":0.109},{"j":1977,"v":0.121},{"j":1978,"v":0.118},{"j":1979,"v":0.13},{"j":1980,"v":0.134},{"j":1981,"v":0.133},{"j":1982,"v":0.142},{"j":1983,"v":0.154},{"j":1984,"v":0.167},{"j":1985,"v":0.173},{"j":1986,"v":0.187},{"j":1987,"v":0.205},{"j":1988,"v":0.205},{"j":1989,"v":0.221},{"j":1990,"v":0.246},{"j":1991,"v":0.252},{"j":1992,"v":0.264},{"j":1993,"v":0.282},{"j":1994,"v":0.331},{"j":1995,"v":0.332},{"j":1996,"v":0.353},{"j":1997,"v":0.377},{"j":1998,"v":0.402},{"j":1999,"v":0.442},{"j":2000,"v":0.49},{"j":2001,"v":0.518},{"j":2002,"v":0.558},{"j":2003,"v":0.63},{"j":2004,"v":0.67},{"j":2005,"v":0.681},{"j":2006,"v":0.739},{"j":2007,"v":0.803},{"j":2008,"v":0.828}],
"e8":[{"j":1965,"v":0},{"j":1967,"v":0.01},{"j":1968,"v":0.018},{"j":1970,"v":0.032},{"j":1972,"v":0.045},{"j":1974,"v":0.055},{"j":1976,"v":0.068},{"j":1977,"v":0.075},{"j":1978,"v":0.072},{"j":1979,"v":0.08},{"j":1980,"v":0.085},{"j":1982,"v":0.09},{"j":1984,"v":0.1},{"j":1986,"v":0.11},{"j":1987,"v":0.12},{"j":1988,"v":0.122},{"j":1990,"v":0.138},{"j":1992,"v":0.16},{"j":1994,"v":0.19},{"j":1995,"v":0.19},{"j":1996,"v":0.205},{"j":1998,"v":0.24},{"j":2000,"v":0.28},{"j":2002,"v":0.315},{"j":2003,"v":0.34},{"j":2004,"v":0.365},{"j":2005,"v":0.39},{"j":2006,"v":0.39},{"j":2007,"v":0.43},{"j":2008,"v":0.465}],
"e7":[{"j":1965,"v":0},{"j":1967,"v":0.005},{"j":1970,"v":0.02},{"j":1973,"v":0.03},{"j":1975,"v":0.035},{"j":1978,"v":0.045},{"j":1980,"v":0.05},{"j":1983,"v":0.058},{"j":1985,"v":0.062},{"j":1988,"v":0.07},{"j":1990,"v":0.08},{"j":1992,"v":0.088},{"j":1994,"v":0.103},{"j":1995,"v":0.105},{"j":1997,"v":0.118},{"j":2000,"v":0.145},{"j":2002,"v":0.165},{"j":2004,"v":0.19},{"j":2006,"v":0.21},{"j":2007,"v":0.225},{"j":2008,"v":0.245}],
"e6":[{"j":1965,"v":0},{"j":1968,"v":0.008},{"j":1970,"v":0.015},{"j":1973,"v":0.025},{"j":1975,"v":0.03},{"j":1978,"v":0.045},{"j":1980,"v":0.055},{"j":1983,"v":0.072},{"j":1985,"v":0.09},{"j":1987,"v":0.11},{"j":1990,"v":0.145},{"j":1992,"v":0.17},{"j":1994,"v":0.2},{"j":1995,"v":0.215},{"j":1997,"v":0.245},{"j":1999,"v":0.285},{"j":2000,"v":0.315},{"j":2002,"v":0.35},{"j":2003,"v":0.37},{"j":2004,"v":0.39},{"j":2005,"v":0.395},{"j":2006,"v":0.42},{"j":2007,"v":0.435},{"j":2008,"v":0.448}],
"e5":[{"j":1950,"v":0},{"j":1952,"v":0.009},{"j":1954,"v":0.012},{"j":1956,"v":0.013},{"j":1958,"v":0.011},{"j":1960,"v":0.008},{"j":1962,"v":0.005},{"j":1964,"v":0.003},{"j":1966,"v":0.003},{"j":1968,"v":0.006},{"j":1970,"v":0.011},{"j":1972,"v":0.016},{"j":1975,"v":0.025},{"j":1978,"v":0.038},{"j":1980,"v":0.05},{"j":1983,"v":0.068},{"j":1985,"v":0.085},{"j":1987,"v":0.105},{"j":1990,"v":0.155},{"j":1992,"v":0.18},{"j":1994,"v":0.22},{"j":1995,"v":0.235},{"j":1997,"v":0.265},{"j":1999,"v":0.305},{"j":2000,"v":0.34},{"j":2001,"v":0.355},{"j":2002,"v":0.375},{"j":2003,"v":0.4},{"j":2004,"v":0.415},{"j":2005,"v":0.42},{"j":2006,"v":0.44},{"j":2007,"v":0.47},{"j":2008,"v":0.495}],
"e4":[{"j":1968,"v":0},{"j":1972,"v":0.003},{"j":1975,"v":0.012},{"j":1978,"v":0.03},{"j":1980,"v":0.04},{"j":1983,"v":0.065},{"j":1985,"v":0.085},{"j":1988,"v":0.115},{"j":1990,"v":0.14},{"j":1993,"v":0.17},{"j":1995,"v":0.2},{"j":1997,"v":0.225},{"j":2000,"v":0.25},{"j":2002,"v":0.258},{"j":2004,"v":0.265},{"j":2005,"v":0.265},{"j":2006,"v":0.245},{"j":2008,"v":0.24}],
"e3":[{"j":1970,"v":0},{"j":1973,"v":0.003},{"j":1976,"v":0.015},{"j":1980,"v":0.035},{"j":1985,"v":0.07},{"j":1990,"v":0.115},{"j":1993,"v":0.14},{"j":1995,"v":0.158},{"j":1997,"v":0.17},{"j":2000,"v":0.19},{"j":2002,"v":0.195},{"j":2003,"v":0.2},{"j":2004,"v":0.205},{"j":2005,"v":0.195},{"j":2007,"v":0.195},{"j":2008,"v":0.185}],
"e2":[{"j":1970,"v":0},{"j":1976,"v":0.01},{"j":1980,"v":0.025},{"j":1985,"v":0.05},{"j":1990,"v":0.075},{"j":1995,"v":0.095},{"j":1998,"v":0.11},{"j":2000,"v":0.115},{"j":2002,"v":0.12},{"j":2004,"v":0.125},{"j":2006,"v":0.125},{"j":2008,"v":0.128}],
"e1":[{"j":1972,"v":0},{"j":1980,"v":0.01},{"j":1985,"v":0.025},{"j":1990,"v":0.045},{"j":1995,"v":0.06},{"j":2000,"v":0.075},{"j":2003,"v":0.085},{"j":2005,"v":0.095},{"j":2007,"v":0.097},{"j":2008,"v":0.1}],
"e0":[{"j":1972,"v":0},{"j":1980,"v":0.005},{"j":1985,"v":0.01},{"j":1990,"v":0.017},{"j":1995,"v":0.025},{"j":2000,"v":0.03},{"j":2004,"v":0.035},{"j":2008,"v":0.032}],
"f9":[{"j":1950,"v":0.63},{"j":1951,"v":0.64},{"j":1952,"v":0.63},{"j":1953,"v":0.63},{"j":1954,"v":0.58},{"j":1955,"v":0.62},{"j":1956,"v":0.75},{"j":1957,"v":0.89},{"j":1958,"v":0.95},{"j":1959,"v":1.13},{"j":1960,"v":1.31},{"j":1961,"v":1.37},{"j":1962,"v":1.64},{"j":1963,"v":1.98},{"j":1964,"v":1.86},{"j":1965,"v":2.29},{"j":1966,"v":2.56},{"j":1967,"v":2.65},{"j":1968,"v":3.18},{"j":1969,"v":3.36},{"j":1970,"v":3.54},{"j":1971,"v":3.87},{"j":1972,"v":4.08},{"j":1973,"v":4.34},{"j":1974,"v":4.26},{"j":1975,"v":4.83},{"j":1976,"v":4.83},{"j":1977,"v":4.5},{"j":1978,"v":4.97},{"j":1979,"v":5.06},{"j":1980,"v":5.15},{"j":1981,"v":5.2},{"j":1982,"v":5.22},{"j":1983,"v":5.68},{"j":1984,"v":5.71},{"j":1985,"v":5.86},{"j":1986,"v":6.13},{"j":1987,"v":6.2},{"j":1988,"v":6.15},{"j":1989,"v":6.15},{"j":1990,"v":6.65},{"j":1991,"v":6.51},{"j":1992,"v":6.62},{"j":1993,"v":6.47},{"j":1994,"v":7.22},{"j":1995,"v":6.65},{"j":1996,"v":6.53},{"j":1997,"v":6.57},{"j":1998,"v":6.2},{"j":1999,"v":6.4},{"j":2000,"v":6.53},{"j":2001,"v":6.11},{"j":2002,"v":5.98},{"j":2003,"v":5.75},{"j":2004,"v":5.82},{"j":2005,"v":5.15},{"j":2006,"v":5.12},{"j":2007,"v":4.85},{"j":2008,"v":4.7}],
"f8":[{"j":1950,"v":0.45},{"j":1952,"v":0.45},{"j":1954,"v":0.5},{"j":1956,"v":0.55},{"j":1958,"v":0.6},{"j":1960,"v":0.75},{"j":1962,"v":1.0},{"j":1963,"v":1.2},{"j":1964,"v":1.2},{"j":1965,"v":1.45},{"j":1966,"v":1.6},{"j":1967,"v":1.7},{"j":1968,"v":1.95},{"j":1969,"v":2.05},{"j":1970,"v":2.2},{"j":1971,"v":2.43},{"j":1972,"v":2.78},{"j":1973,"v":2.89},{"j":1974,"v":2.96},{"j":1975,"v":3.25},{"j":1976,"v":3.34},{"j":1977,"v":3.16},{"j":1978,"v":3.47},{"j":1979,"v":3.34},{"j":1980,"v":3.59},{"j":1981,"v":3.65},{"j":1982,"v":3.72},{"j":1983,"v":3.88},{"j":1984,"v":4.03},{"j":1985,"v":4.06},{"j":1986,"v":4.3},{"j":1987,"v":4.32},{"j":1988,"v":4.14},{"j":1989,"v":4.14},{"j":1990,"v":4.48},{"j":1991,"v":4.43},{"j":1992,"v":4.48},{"j":1993,"v":4.36},{"j":1994,"v":4.7},{"j":1995,"v":4.34},{"j":1996,"v":4.37},{"j":1997,"v":4.36},{"j":1998,"v":4.14},{"j":1999,"v":4.15},{"j":2000,"v":4.08},{"j":2001,"v":3.93},{"j":2002,"v":3.76},{"j":2003,"v":3.76},{"j":2004,"v":3.68},{"j":2005,"v":3.3},{"j":2006,"v":3.16},{"j":2007,"v":2.94},{"j":2008,"v":2.8}],
"f7":[{"j":1950,"v":0.45},{"j":1953,"v":0.4},{"j":1956,"v":0.35},{"j":1958,"v":0.35},{"j":1960,"v":0.4},{"j":1962,"v":0.55},{"j":1964,"v":0.75},{"j":1966,"v":1.0},{"j":1968,"v":1.3},{"j":1970,"v":1.5},{"j":1972,"v":1.7},{"j":1974,"v":1.85},{"j":1975,"v":1.95},{"j":1976,"v":2.2},{"j":1977,"v":2.0},{"j":1978,"v":2.3},{"j":1980,"v":2.4},{"j":1982,"v":2.6},{"j":1984,"v":2.7},{"j":1986,"v":2.85},{"j":1988,"v":2.85},{"j":1990,"v":3.0},{"j":1992,"v":2.95},{"j":1993,"v":2.85},{"j":1994,"v":3.0},{"j":1995,"v":2.8},{"j":1996,"v":2.85},{"j":1998,"v":2.7},{"j":2000,"v":2.55},{"j":2002,"v":2.35},{"j":2003,"v":2.25},{"j":2004,"v":2.15},{"j":2005,"v":1.95},{"j":2006,"v":1.9},{"j":2007,"v":1.7},{"j":2008,"v":1.55}],
"f6":[{"j":1950,"v":0.45},{"j":1955,"v":0.6},{"j":1958,"v":0.75},{"j":1960,"v":0.85},{"j":1962,"v":1.05},{"j":1964,"v":1.25},{"j":1966,"v":1.5},{"j":1968,"v":1.75},{"j":1970,"v":2.0},{"j":1972,"v":2.3},{"j":1973,"v":2.35},{"j":1974,"v":2.35},{"j":1975,"v":2.53},{"j":1976,"v":2.63},{"j":1977,"v":2.53},{"j":1978,"v":2.74},{"j":1980,"v":2.76},{"j":1982,"v":2.87},{"j":1984,"v":2.92},{"j":1986,"v":2.94},{"j":1987,"v":2.85},{"j":1988,"v":2.78},{"j":1989,"v":2.77},{"j":1990,"v":2.83},{"j":1991,"v":2.68},{"j":1992,"v":2.62},{"j":1993,"v":2.56},{"j":1994,"v":2.65},{"j":1995,"v":2.44},{"j":1996,"v":2.43},{"j":1997,"v":2.38},{"j":1998,"v":2.22},{"j":2000,"v":2.1},{"j":2002,"v":1.95},{"j":2003,"v":1.85},{"j":2004,"v":1.75},{"j":2005,"v":1.6},{"j":2006,"v":1.55},{"j":2007,"v":1.4},{"j":2008,"v":1.3}],
"f5":[{"j":1950,"v":0.45},{"j":1955,"v":0.65},{"j":1960,"v":0.95},{"j":1963,"v":1.25},{"j":1965,"v":1.4},{"j":1968,"v":1.75},{"j":1970,"v":2.0},{"j":1972,"v":2.25},{"j":1973,"v":2.15},{"j":1974,"v":2.15},{"j":1975,"v":2.3},{"j":1976,"v":2.4},{"j":1977,"v":2.3},{"j":1978,"v":2.4},{"j":1980,"v":2.42},{"j":1982,"v":2.38},{"j":1983,"v":2.3},{"j":1984,"v":2.33},{"j":1986,"v":2.25},{"j":1987,"v":2.25},{"j":1988,"v":2.15},{"j":1990,"v":2.1},{"j":1992,"v":1.95},{"j":1993,"v":1.88},{"j":1994,"v":1.88},{"j":1996,"v":1.75},{"j":1998,"v":1.65},{"j":2000,"v":1.55},{"j":2002,"v":1.42},{"j":2004,"v":1.3},{"j":2006,"v":1.15},{"j":2007,"v":1.05},{"j":2008,"v":1.0}],
"f4":[{"j":1950,"v":0.45},{"j":1955,"v":0.7},{"j":1960,"v":0.95},{"j":1965,"v":1.3},{"j":1968,"v":1.5},{"j":1970,"v":1.65},{"j":1972,"v":1.75},{"j":1974,"v":1.75},{"j":1976,"v":1.85},{"j":1978,"v":1.78},{"j":1980,"v":1.72},{"j":1982,"v":1.7},{"j":1984,"v":1.65},{"j":1986,"v":1.62},{"j":1988,"v":1.52},{"j":1990,"v":1.45},{"j":1992,"v":1.35},{"j":1993,"v":1.28},{"j":1994,"v":1.3},{"j":1996,"v":1.2},{"j":1998,"v":1.1},{"j":2000,"v":1.0},{"j":2002,"v":0.9},{"j":2004,"v":0.8},{"j":2006,"v":0.7},{"j":2008,"v":0.6}],
"f3":[{"j":1950,"v":0.35},{"j":1955,"v":0.5},{"j":1960,"v":0.65},{"j":1963,"v":0.85},{"j":1966,"v":1.0},{"j":1968,"v":1.1},{"j":1970,"v":1.2},{"j":1972,"v":1.25},{"j":1974,"v":1.2},{"j":1976,"v":1.2},{"j":1978,"v":1.15},{"j":1980,"v":1.1},{"j":1982,"v":1.08},{"j":1984,"v":1.0},{"j":1986,"v":0.98},{"j":1988,"v":0.92},{"j":1990,"v":0.85},{"j":1992,"v":0.8},{"j":1994,"v":0.78},{"j":1996,"v":0.7},{"j":1998,"v":0.62},{"j":2000,"v":0.55},{"j":2004,"v":0.45},{"j":2008,"v":0.35}],
"f2":[{"j":1950,"v":0.3},{"j":1955,"v":0.4},{"j":1960,"v":0.5},{"j":1965,"v":0.62},{"j":1970,"v":0.7},{"j":1972,"v":0.72},{"j":1975,"v":0.7},{"j":1980,"v":0.65},{"j":1985,"v":0.6},{"j":1990,"v":0.5},{"j":1995,"v":0.42},{"j":2000,"v":0.33},{"j":2004,"v":0.27},{"j":2008,"v":0.2}],
"f1":[{"j":1950,"v":0.25},{"j":1960,"v":0.3},{"j":1965,"v":0.38},{"j":1970,"v":0.42},{"j":1975,"v":0.4},{"j":1980,"v":0.38},{"j":1985,"v":0.32},{"j":1990,"v":0.27},{"j":1995,"v":0.22},{"j":2000,"v":0.18},{"j":2008,"v":0.13}],
"f0":[{"j":1950,"v":0.2},{"j":1960,"v":0.2},{"j":1970,"v":0.22},{"j":1980,"v":0.2},{"j":1990,"v":0.15},{"j":2000,"v":0.12},{"j":2008,"v":0.08}]
},
"concat":[
{"width":421.3,"height":336.5,"title":{"text":"sterfte (per 1.000), vrouwen","dx":-27.7,"offset":17.7},
"encoding":{"x":{"field":"j","type":"quantitative","scale":{"domain":[1950,2008],"nice":false,"zero":false},"axis":{"values":[1950,1960,1970,1980,1990,2000],"format":"d"}},"y":{"field":"v","type":"quantitative","scale":{"domain":[0,35],"nice":false},"axis":{"values":[0,5,10,15,20,25,30,35]}}},
"layer":[
{"data":{"name":"a0"},"mark":"line","encoding":{"color":{"datum":"45 – 49","legend":null,"scale":{"domain":["45 – 49","50 – 54","55 – 59","60 – 64","65 – 69","70 – 74","75 – 79","80 – 84","85 – 89","90 – 94"],"range":["#fdf3e7","#f6c4a8","#f0a07a","#eb7550","#e4482f","#e31e24","#c81c21","#9e1b1c","#701612","#4d0e0c"]}}}},
{"data":{"name":"a1"},"mark":"line","encoding":{"color":{"datum":"50 – 54","legend":null}}},
{"data":{"name":"a2"},"mark":"line","encoding":{"color":{"datum":"55 – 59","legend":null}}},
{"data":{"name":"a3"},"mark":"line","encoding":{"color":{"datum":"60 – 64","legend":null}}},
{"data":{"name":"a4"},"mark":"line","encoding":{"color":{"datum":"65 – 69","legend":null}}},
{"data":{"name":"a5"},"mark":"line","encoding":{"color":{"datum":"70 – 74","legend":null}}},
{"data":{"name":"a6"},"mark":"line","encoding":{"color":{"datum":"75 – 79","legend":null}}},
{"data":{"name":"a7"},"mark":"line","encoding":{"color":{"datum":"80 – 84","legend":null}}},
{"data":{"name":"a8"},"mark":"line","encoding":{"color":{"datum":"85 – 89","legend":null}}},
{"data":{"name":"a9"},"mark":"line","encoding":{"color":{"datum":"90 – 94","legend":null}}}
]},
{"width":414,"height":336.5,"title":{"text":"sterfte (per 1.000), mannen","dx":-28,"offset":21.4},
"encoding":{"x":{"field":"j","type":"quantitative","scale":{"domain":[1950,2007.1],"nice":false,"zero":false},"axis":{"values":[1950,1960,1970,1980,1990,2000],"format":"d"}},"y":{"field":"v","type":"quantitative","scale":{"domain":[0,35],"nice":false},"axis":{"values":[0,5,10,15,20,25,30,35]}}},
"layer":[
{"data":{"name":"b0"},"mark":{"type":"line","clip":true},"encoding":{"color":{"datum":"45 – 49","legend":null,"scale":{"domain":["45 – 49","50 – 54","55 – 59","60 – 64","65 – 69","70 – 74","75 – 79","80 – 84","85 – 89","90 – 94"],"range":["#eef2f7","#a8b8d6","#8aa3ca","#557fb0","#14609a","#0d5896","#0a4a80","#093563","#061b38","#030a1c"]}}}},
{"data":{"name":"b1"},"mark":{"type":"line","clip":true},"encoding":{"color":{"datum":"50 – 54","legend":null}}},
{"data":{"name":"b2"},"mark":{"type":"line","clip":true},"encoding":{"color":{"datum":"55 – 59","legend":null}}},
{"data":{"name":"b3"},"mark":{"type":"line","clip":true},"encoding":{"color":{"datum":"60 – 64","legend":null}}},
{"data":{"name":"b4"},"mark":{"type":"line","clip":true},"encoding":{"color":{"datum":"65 – 69","legend":null}}},
{"data":{"name":"b5"},"mark":{"type":"line","clip":true},"encoding":{"color":{"datum":"70 – 74","legend":null}}},
{"data":{"name":"b6"},"mark":{"type":"line","clip":true},"encoding":{"color":{"datum":"75 – 79","legend":null}}},
{"data":{"name":"b7"},"mark":{"type":"line","clip":true},"encoding":{"color":{"datum":"80 – 84","legend":null}}},
{"data":{"name":"b8"},"mark":{"type":"line","clip":true},"encoding":{"color":{"datum":"85 – 89","legend":null}}},
{"data":{"name":"b9"},"mark":{"type":"line","clip":true},"encoding":{"color":{"datum":"90 – 94","legend":null}}}
]},
{"width":421.3,"height":336.5,"title":{"text":"sterfte (per 1.000), vrouwen","dx":-27.7,"offset":19.7},
"encoding":{"x":{"field":"j","type":"quantitative","scale":{"domain":[1950,2008],"nice":false,"zero":false},"axis":{"values":[1950,1960,1970,1980,1990,2000],"format":"d"}},"y":{"field":"v","type":"quantitative","scale":{"domain":[0,35],"nice":false},"axis":{"values":[0,5,10,15,20,25,30,35]}}},
"layer":[
{"data":{"name":"c0"},"mark":"line","encoding":{"color":{"datum":"45 – 49","legend":null,"scale":{"domain":["45 – 49","50 – 54","55 – 59","60 – 64","65 – 69","70 – 74","75 – 79","80 – 84","85 – 89","90 – 94"],"range":["#fdf3e7","#f6c4a8","#f0a07a","#eb7550","#e4482f","#e31e24","#c81c21","#9e1b1c","#701612","#4d0e0c"]}}}},
{"data":{"name":"c1"},"mark":"line","encoding":{"color":{"datum":"50 – 54","legend":null}}},
{"data":{"name":"c2"},"mark":"line","encoding":{"color":{"datum":"55 – 59","legend":null}}},
{"data":{"name":"c3"},"mark":"line","encoding":{"color":{"datum":"60 – 64","legend":null}}},
{"data":{"name":"c4"},"mark":"line","encoding":{"color":{"datum":"65 – 69","legend":null}}},
{"data":{"name":"c5"},"mark":"line","encoding":{"color":{"datum":"70 – 74","legend":null}}},
{"data":{"name":"c6"},"mark":"line","encoding":{"color":{"datum":"75 – 79","legend":null}}},
{"data":{"name":"c7"},"mark":"line","encoding":{"color":{"datum":"80 – 84","legend":null}}},
{"data":{"name":"c8"},"mark":"line","encoding":{"color":{"datum":"85 – 89","legend":null}}},
{"data":{"name":"c9"},"mark":"line","encoding":{"color":{"datum":"90 – 94","legend":null}}}
]},
{"width":414,"height":336.5,"title":{"text":"sterfte (per 1.000), mannen","dx":-28,"offset":23.4},
"encoding":{"x":{"field":"j","type":"quantitative","scale":{"domain":[1950,2007.1],"nice":false,"zero":false},"axis":{"values":[1950,1960,1970,1980,1990,2000],"format":"d"}},"y":{"field":"v","type":"quantitative","scale":{"domain":[0,35],"nice":false},"axis":{"values":[0,5,10,15,20,25,30,35]}}},
"layer":[
{"data":{"name":"d0"},"mark":{"type":"line","clip":true},"encoding":{"color":{"datum":"45 – 49","legend":null,"scale":{"domain":["45 – 49","50 – 54","55 – 59","60 – 64","65 – 69","70 – 74","75 – 79","80 – 84","85 – 89","90 – 94"],"range":["#eef2f7","#a8b8d6","#8aa3ca","#557fb0","#14609a","#0d5896","#0a4a80","#093563","#061b38","#030a1c"]}}}},
{"data":{"name":"d1"},"mark":{"type":"line","clip":true},"encoding":{"color":{"datum":"50 – 54","legend":null}}},
{"data":{"name":"d2"},"mark":{"type":"line","clip":true},"encoding":{"color":{"datum":"55 – 59","legend":null}}},
{"data":{"name":"d3"},"mark":{"type":"line","clip":true},"encoding":{"color":{"datum":"60 – 64","legend":null}}},
{"data":{"name":"d4"},"mark":{"type":"line","clip":true},"encoding":{"color":{"datum":"65 – 69","legend":null}}},
{"data":{"name":"d5"},"mark":{"type":"line","clip":true},"encoding":{"color":{"datum":"70 – 74","legend":null}}},
{"data":{"name":"d6"},"mark":{"type":"line","clip":true},"encoding":{"color":{"datum":"75 – 79","legend":null}}},
{"data":{"name":"d7"},"mark":{"type":"line","clip":true},"encoding":{"color":{"datum":"80 – 84","legend":null}}},
{"data":{"name":"d8"},"mark":{"type":"line","clip":true},"encoding":{"color":{"datum":"85 – 89","legend":null}}},
{"data":{"name":"d9"},"mark":{"type":"line","clip":true},"encoding":{"color":{"datum":"90 – 94","legend":null}}}
]},
{"width":421.3,"height":336.5,"title":{"text":"sterfte (per 1.000), vrouwen","dx":-32.7,"offset":22.4},
"encoding":{"x":{"field":"j","type":"quantitative","scale":{"domain":[1950,2008],"nice":false,"zero":false},"axis":{"values":[1950,1960,1970,1980,1990,2000],"format":"d"}},"y":{"field":"v","type":"quantitative","scale":{"domain":[0,0.9],"nice":false},"axis":{"values":[0,0.1,0.2,0.3,0.4,0.5,0.6,0.7,0.8,0.9],"labelExpr":"replace(format(datum.value,'.1f'),'.',',')"}}},
"layer":[
{"data":{"name":"e0"},"mark":"line","encoding":{"color":{"datum":"45 – 49","legend":{"orient":"none","legendX":0,"legendY":404,"columns":2,"title":null},"scale":{"domain":["45 – 49","50 – 54","55 – 59","60 – 64","65 – 69","70 – 74","75 – 79","80 – 84","85 – 89","90 – 94"],"range":["#fdf3e7","#f6c4a8","#f0a07a","#eb7550","#e4482f","#e31e24","#c81c21","#9e1b1c","#701612","#4d0e0c"]}}}},
{"data":{"name":"e1"},"mark":"line","encoding":{"color":{"datum":"50 – 54"}}},
{"data":{"name":"e2"},"mark":"line","encoding":{"color":{"datum":"55 – 59"}}},
{"data":{"name":"e3"},"mark":"line","encoding":{"color":{"datum":"60 – 64"}}},
{"data":{"name":"e4"},"mark":"line","encoding":{"color":{"datum":"65 – 69"}}},
{"data":{"name":"e6"},"mark":"line","encoding":{"color":{"datum":"75 – 79"}}},
{"data":{"name":"e7"},"mark":"line","encoding":{"color":{"datum":"80 – 84"}}},
{"data":{"name":"e8"},"mark":"line","encoding":{"color":{"datum":"85 – 89"}}},
{"data":{"name":"e5"},"mark":"line","encoding":{"color":{"datum":"70 – 74"}}},
{"data":{"name":"e9"},"mark":"line","encoding":{"color":{"datum":"90 – 94"}}}
]},
{"width":414,"height":336.5,"title":{"text":"sterfte (per 1.000), mannen","dx":-25.3,"offset":20.7},
"encoding":{"x":{"field":"j","type":"quantitative","scale":{"domain":[1950,2007.1],"nice":false,"zero":false},"axis":{"values":[1950,1960,1970,1980,1990,2000],"format":"d"}},"y":{"field":"v","type":"quantitative","scale":{"domain":[0,9],"nice":false},"axis":{"values":[0,1,2,3,4,5,6,7,8,9]}}},
"layer":[
{"data":{"name":"f0"},"mark":{"type":"line","clip":true},"encoding":{"color":{"datum":"45 – 49","legend":{"orient":"none","legendX":0,"legendY":404,"columns":2,"title":null},"scale":{"domain":["45 – 49","50 – 54","55 – 59","60 – 64","65 – 69","70 – 74","75 – 79","80 – 84","85 – 89","90 – 94"],"range":["#eef2f7","#a8b8d6","#8aa3ca","#557fb0","#14609a","#0d5896","#0a4a80","#093563","#061b38","#030a1c"]}}}},
{"data":{"name":"f1"},"mark":{"type":"line","clip":true},"encoding":{"color":{"datum":"50 – 54"}}},
{"data":{"name":"f2"},"mark":{"type":"line","clip":true},"encoding":{"color":{"datum":"55 – 59"}}},
{"data":{"name":"f3"},"mark":{"type":"line","clip":true},"encoding":{"color":{"datum":"60 – 64"}}},
{"data":{"name":"f4"},"mark":{"type":"line","clip":true},"encoding":{"color":{"datum":"65 – 69"}}},
{"data":{"name":"f5"},"mark":{"type":"line","clip":true},"encoding":{"color":{"datum":"70 – 74"}}},
{"data":{"name":"f6"},"mark":{"type":"line","clip":true},"encoding":{"color":{"datum":"75 – 79"}}},
{"data":{"name":"f7"},"mark":{"type":"line","clip":true},"encoding":{"color":{"datum":"80 – 84"}}},
{"data":{"name":"f8"},"mark":{"type":"line","clip":true},"encoding":{"color":{"datum":"85 – 89"}}},
{"data":{"name":"f9"},"mark":{"type":"line","clip":true},"encoding":{"color":{"datum":"90 – 94"}}}
]}
],
"config":{
"view":{"fill":"white","stroke":null},
"font":"Open Sans",
"line":{"strokeWidth":3},
"axis":{"title":null,"domainColor":"#111111","domainWidth":1.6,"labelFont":"Open Sans","labelFontSize":20,"labelFontWeight":600,"labelColor":"#111111"},
"axisX":{"grid":false,"tickColor":"#111111","tickWidth":1.6,"tickSize":6,"labelPadding":10,"labelFlush":false},
"axisY":{"grid":true,"gridColor":"#7cc3b5","gridDash":[2,3],"gridWidth":1.5,"ticks":false,"tickSize":0,"labelPadding":7},
"title":{"font":"Open Sans","fontSize":19,"fontWeight":"normal","color":"#111111","anchor":"start","frame":"group"},
"legend":{"symbolType":"stroke","symbolSize":1681,"symbolStrokeWidth":3,"labelFont":"Open Sans","labelFontSize":18,"labelColor":"#111111","labelOffset":7.4,"columnPadding":34.7,"rowPadding":1.5,"padding":0}
}
}
